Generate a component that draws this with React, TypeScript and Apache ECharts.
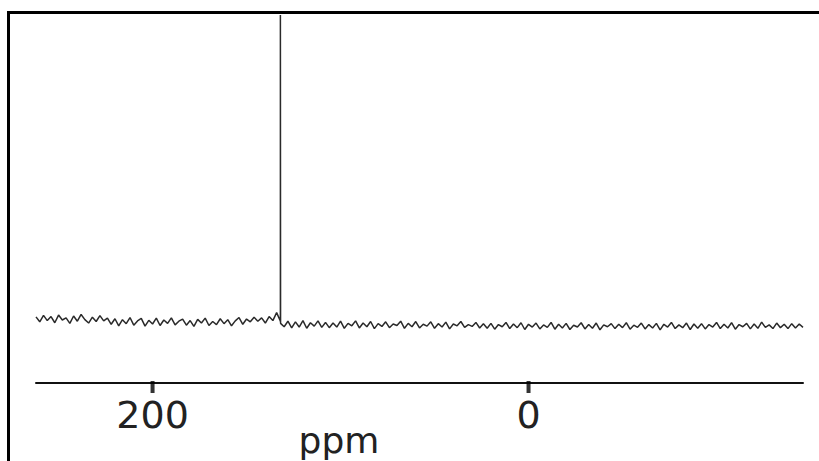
import React, { useEffect, useRef } from "react";
import * as echarts from "echarts";

// Chemical shift grid (ppm), sampled every 2 ppm from left edge to right edge
const ppmStart = 262;
const ppmStep = -2;

// Baseline noise intensities (arbitrary units, peak = 100)
const noise: number[] = [
  1.8, 0.2, 2.3, 0.6, 1.9, -0.1, 2.4, 0.8, 1.5, -0.3, 2.1, 0.4, 2.6, 0.9, -0.2, 1.7, 0.3, 2.2, 0.5, 1.4,
  -0.6, 1.2, -1.1, 0.9, -0.4, 1.6, -0.9, 0.5, 1.3, -1.2, 0.7, -0.5, 1.4, -1.0, 0.8, -0.3, 1.5, -0.8, 0.4, 1.1,
  -0.9, 0.6, -1.3, 1.0, -0.2, 1.4, -1.0, 0.3, -0.7, 1.2, -0.4, 0.9, -1.1, 0.5, 1.6, -0.6, 1.1, 0.2, 1.7, 0.4,
  1.5, -0.2, 1.9, 0.6, 3.2, 0.3, -1.4, 0.4, -1.8, 0.2, -1.5, 0.6, -1.9, -0.1, -1.2, 0.5, -1.6, 0.0, -1.7, -0.2,
  -1.5, 0.4, -1.9, -0.3, -1.1, 0.5, -1.8, -0.2, -1.4, 0.3, -2.0, -0.4, -1.3, 0.2, -1.7, -0.5, -1.0, 0.4, -1.9, -0.3,
  -1.4, 0.3, -1.8, -0.6, -1.2, 0.2, -1.9, -0.4, -1.5, 0.1, -2.1, -0.5, -1.1, 0.3, -1.6, -0.7, -1.3, 0.0, -1.8, -0.4,
  -1.9, -0.3, -2.2, -0.7, -1.4, 0.0, -2.0, -0.5, -1.7, -0.1, -2.3, -0.6, -1.5, -0.2, -2.1, -0.8, -1.6, 0.0, -2.2, -0.6,
  -1.8, -0.3, -2.3, -0.9, -1.5, -0.1, -2.1, -0.7, -1.9, -0.2, -2.4, -0.8, -1.4, -0.4, -2.0, -0.6, -1.7, -0.1, -2.2, -0.9,
  -1.6, -0.2, -2.1, -0.7, -1.8, -0.3, -2.4, -0.6, -1.5, 0.0, -2.0, -0.8, -1.7, -0.2, -2.3, -0.5, -1.9, -0.4, -2.1, -0.7,
  -1.5, 0.0, -2.0, -0.6, -1.8, -0.1, -2.2, -0.7, -1.4, -0.3, -2.1, -0.5, -1.9, 0.1, -1.6, -0.8, -2.0, -0.2, -1.7, -0.6,
  -2.0, -0.4, -1.8, -0.5, -1.6,
];

// The single sharp resonance
const peakPpm: number[] = [132.1, 132.0, 131.9];
const peakVal: number[] = [0.6, 100, -0.3];

const tickValues: number[] = [200, 0];
const axisMin = -146;
const axisMax = 262;
const yMin = -19.7;
const yMax = 100;
const axisName = "ppm";

export default function App() {
  const ref = useRef<HTMLDivElement>(null);
  useEffect(() => {
    if (!ref.current) return;
    const chart = echarts.init(ref.current, null, { renderer: "svg" });
    const spectrum = noise
      .map((v, i) => [ppmStart + i * ppmStep, v])
      .concat(peakPpm.map((p, i) => [p, peakVal[i]]))
      .sort((a, b) => b[0] - a[0]);
    chart.setOption({
      animation: false,
      grid: { left: 36, right: 16, top: 15, bottom: 78 },
      xAxis: {
        type: "value",
        inverse: true,
        min: axisMin,
        max: axisMax,
        splitLine: { show: false },
        axisLine: { show: true, onZero: false, lineStyle: { color: "#111", width: 2 } },
        axisTick: { show: false },
        axisLabel: {
          show: true,
          customValues: tickValues,
          margin: 13,
          fontSize: 38,
          color: "#222",
          fontFamily: "DejaVu Sans",
        },
      },
      yAxis: { type: "value", min: yMin, max: yMax, show: false },
      series: [
        {
          type: "line",
          data: spectrum,
          symbol: "none",
          lineStyle: { color: "#2a2a2a", width: 1.5 },
        },
        {
          // tick marks on the ppm axis
          type: "scatter",
          data: tickValues.map((v) => [v, yMin]),
          symbol: "rect",
          symbolSize: [4, 12],
          symbolOffset: [0, 4],
          itemStyle: { color: "#000" },
          clip: false,
          silent: true,
          z: 5,
        },
      ],
      graphic: [
        {
          type: "text",
          x: 339,
          y: 440,
          style: {
            text: axisName,
            fontSize: 36,
            fontFamily: "DejaVu Sans",
            fill: "#222",
            align: "center",
            verticalAlign: "middle",
          },
        },
      ],
    });
    return () => chart.dispose();
  }, []);
  return (
    <div style={{ position: "fixed", left: 0, top: 0, width: 819, height: 461, background: "#fff" }}>
      <div
        style={{
          position: "absolute",
          left: 6.5,
          top: 10.5,
          width: 812.5,
          height: 450.5,
          borderLeft: "3px solid #000",
          borderTop: "3px solid #000",
          boxSizing: "border-box",
        }}
      />
      <div ref={ref} style={{ position: "absolute", left: 0, top: 0, width: 819, height: 461 }} />
    </div>
  );
}
